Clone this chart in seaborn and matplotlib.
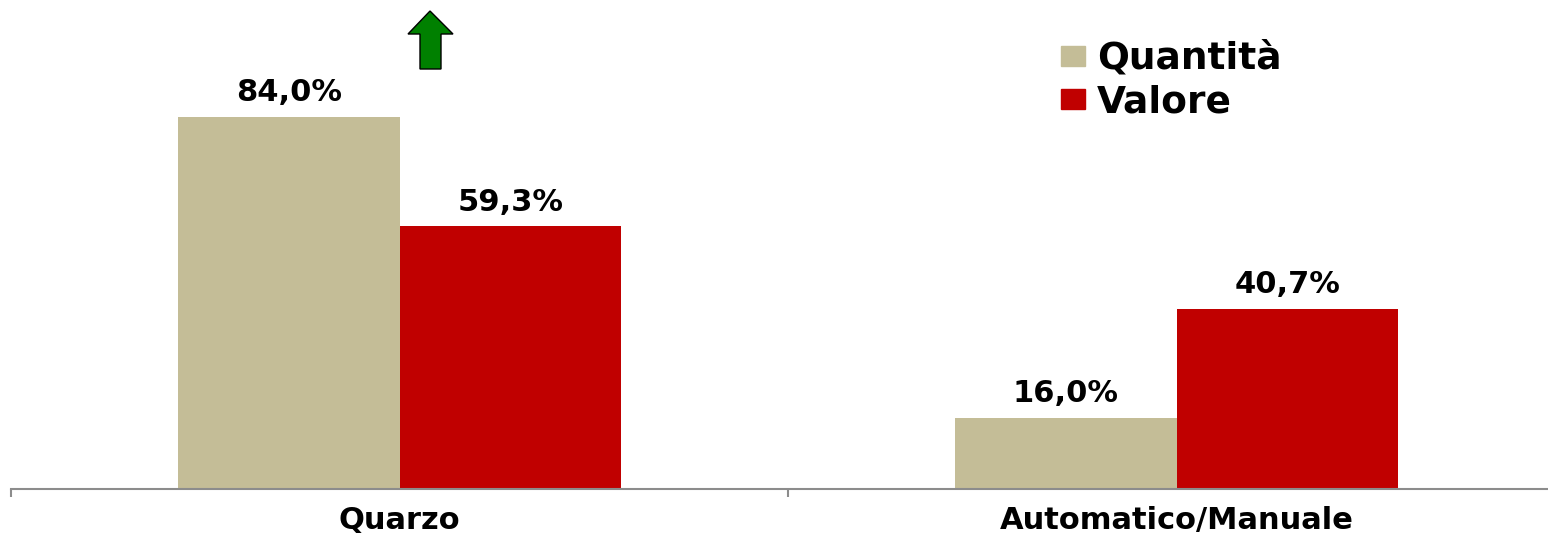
import pandas as pd
import matplotlib.pyplot as plt
import matplotlib.patches as mpatches
import seaborn as sns

# dati
categorie = ['Quarzo', 'Automatico/Manuale']
serie = ['Quantità', 'Valore']
quantita = [84.0, 16.0]
valore = [59.3, 40.7]
colori = {'Quantità': '#C4BD97', 'Valore': '#C00000'}

df = pd.DataFrame({
    'categoria': categorie * 2,
    'serie': [serie[0]] * len(categorie) + [serie[1]] * len(categorie),
    'valore': quantita + valore,
})

sns.set_style('white')
plt.rcParams['font.family'] = ['DejaVu Sans']
plt.rcParams['text.color'] = 'black'
plt.rcParams['xtick.color'] = 'black'

W, H = 1548, 538
fig = plt.figure(figsize=(W / 100, H / 100), dpi=100)
# l'asse va oltre il bordo destro, come nell'originale
ax = fig.add_axes([11 / W, 49 / H, 1554 / W, 489 / H])

sns.barplot(data=df, x='categoria', y='valore', hue='serie', order=categorie,
            hue_order=serie, palette=colori, width=0.57, gap=0, saturation=1,
            edgecolor='none', linewidth=0, ax=ax)

for cont in ax.containers:
    ax.bar_label(cont, labels=[f"{v:.1f}%".replace('.', ',') for v in cont.datavalues],
                 padding=7, fontsize=22, fontweight='bold', color='black')

ax.set_xlim(-0.5, 1.5)
ax.set_ylim(0, 110.4)
ax.set_xlabel('')
ax.set_ylabel('')
ax.set_yticks([])
for s in ['left', 'right', 'top']:
    ax.spines[s].set_visible(False)
ax.spines['bottom'].set_color('#8C8C8C')
ax.spines['bottom'].set_linewidth(1.5)
ax.set_xticks([-0.5, 0.5, 1.5], minor=True)
ax.tick_params(axis='x', which='minor', bottom=True, length=6, width=1.5, color='#8C8C8C', direction='out')
ax.tick_params(axis='x', which='major', length=0, pad=12, labelcolor='black')
for lab in ax.get_xticklabels():
    lab.set_fontsize(22)
    lab.set_fontweight('bold')

# legenda
handles = [mpatches.Patch(color=colori[s], label=s) for s in serie]
leg = ax.legend(handles=handles, loc='upper left', bbox_to_anchor=(1061 / W, 1 - 41 / H),
                bbox_transform=fig.transFigure, frameon=False, borderpad=0, borderaxespad=0,
                handlelength=0.64, handleheight=0.45, handletextpad=0.32, labelspacing=0.2,
                prop={'size': 27, 'weight': 'bold'})
for t in leg.get_texts():
    t.set_color('black')

# freccia verde
px = lambda x, y: (x / W, 1 - y / H)
freccia = [px(430, 11), px(453, 34), px(441, 34), px(441, 69), px(420, 69), px(420, 34), px(408, 34)]
fig.patches.append(mpatches.Polygon(freccia, closed=True, facecolor='#008000', edgecolor='black',
                                    linewidth=1, transform=fig.transFigure, figure=fig))

plt.savefig('out.png', dpi=100)
